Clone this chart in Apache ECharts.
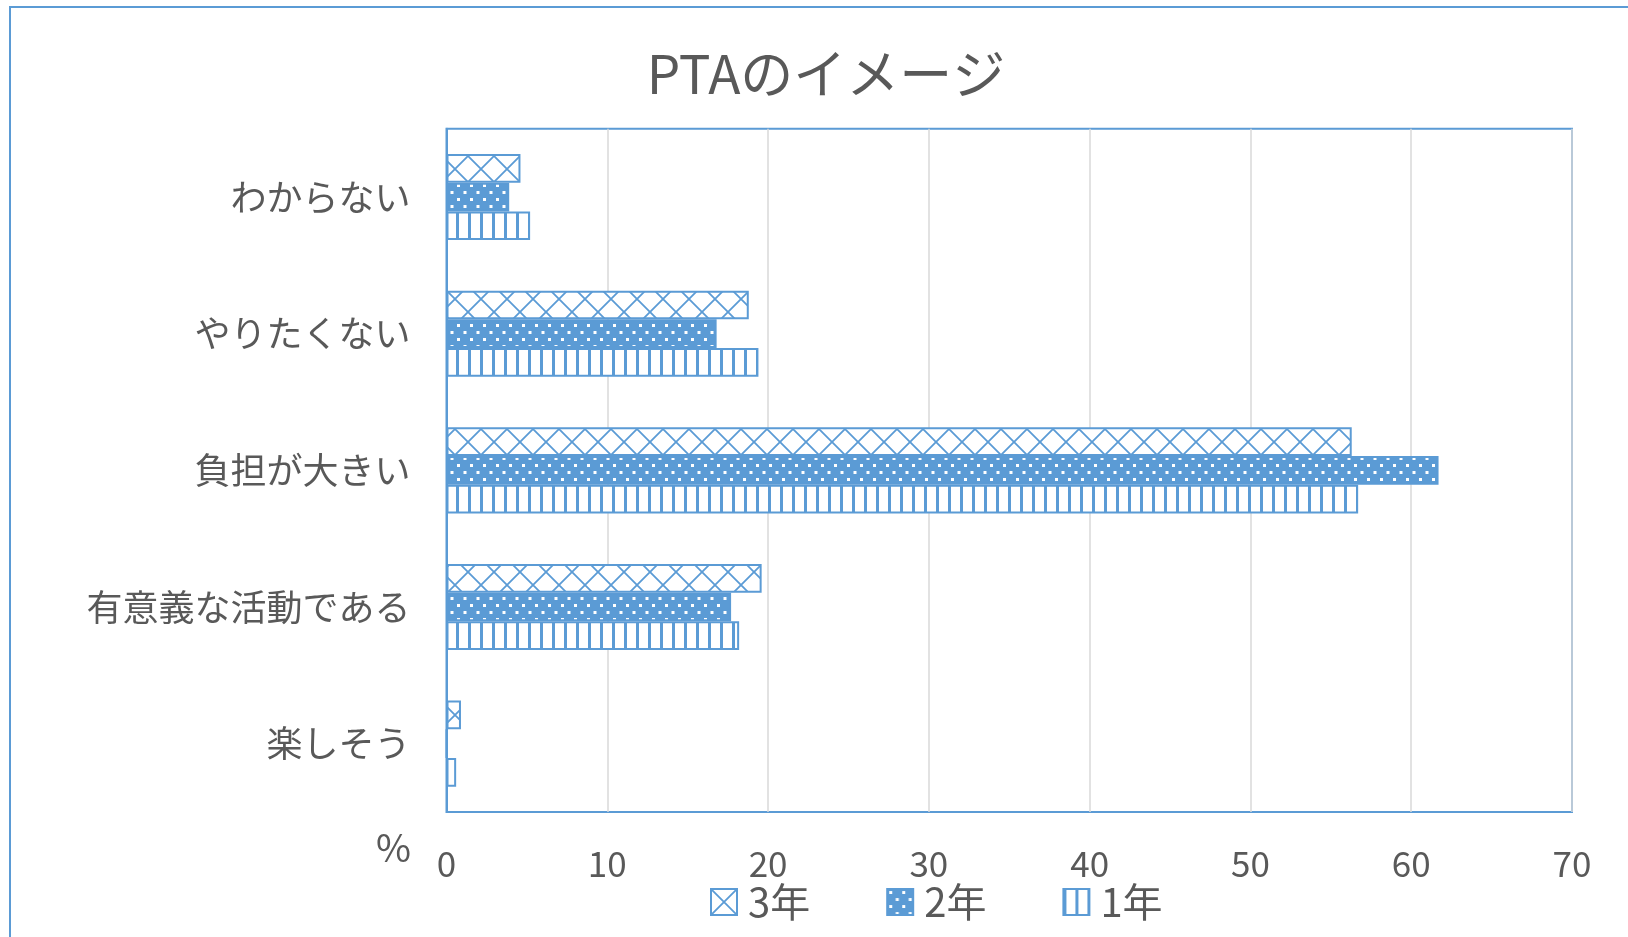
<!DOCTYPE html>
<html>
<head>
<meta charset="utf-8">
<script src="https://cdn.jsdelivr.net/npm/echarts@6/dist/echarts.min.js"></script>
<style>
html,body{margin:0;padding:0;background:#fff;}
#chart{width:1628px;height:937px;}
</style>
</head>
<body>
<div id="chart"></div>
<script>
// Data (categories listed bottom-to-top for ECharts category y-axis)
const categories = ['楽しそう', '有意義な活動である', '負担が大きい', 'やりたくない', 'わからない'];
const seriesNames = ['3年', '2年', '1年'];
const values3 = [0.9, 19.6, 56.3, 18.8, 4.6];
const values2 = [0, 17.7, 61.7, 16.8, 3.9];
const values1 = [0.6, 18.2, 56.7, 19.4, 5.2];
const xTicks = [0, 10, 20, 30, 40, 50, 60, 70];

const BLUE = '#5B9BD5';
const TEXT = '#595959';
const FONT = '"Noto Sans CJK JP", "Noto Sans", sans-serif';

function makeTile(w, h, draw) {
  const c = document.createElement('canvas');
  c.width = w; c.height = h;
  const ctx = c.getContext('2d');
  draw(ctx, w, h);
  return c;
}
const hatchTile = makeTile(26, 26, (ctx, w, h) => {
  ctx.fillStyle = '#fff'; ctx.fillRect(0, 0, w, h);
  ctx.strokeStyle = BLUE; ctx.lineWidth = 1.8;
  ctx.beginPath();
  ctx.moveTo(0, 0); ctx.lineTo(w, h);
  ctx.moveTo(w, 0); ctx.lineTo(0, h);
  ctx.stroke();
});
const dotTile = makeTile(13, 14, (ctx, w, h) => {
  ctx.fillStyle = BLUE; ctx.fillRect(0, 0, w, h);
  ctx.fillStyle = '#fff';
  ctx.fillRect(2, 2, 3, 3);
  ctx.fillRect(8.5, 9, 3, 3);
});
const stripeTile = makeTile(12, 4, (ctx, w, h) => {
  ctx.fillStyle = '#fff'; ctx.fillRect(0, 0, w, h);
  ctx.fillStyle = BLUE; ctx.fillRect(0, 0, 3, h);
});

const patterns = [
  { image: hatchTile, repeat: 'repeat' },
  { image: dotTile, repeat: 'repeat' },
  { image: stripeTile, repeat: 'repeat' }
];
const allValues = [values3, values2, values1];

const chart = echarts.init(document.getElementById('chart'), null, { renderer: 'canvas' });
chart.setOption({
  backgroundColor: '#fff',
  animation: false,
  title: {
    text: 'PTAのイメージ',
    left: 821, top: 42, textAlign: 'center',
    textStyle: { fontFamily: FONT, fontSize: 53, fontWeight: 'normal', color: TEXT }
  },
  grid: { left: 446.5, right: 56, top: 128.7, bottom: 125, show: true, borderColor: BLUE, borderWidth: 2, backgroundColor: 'transparent' },
  legend: {
    left: 705, top: 877,
    itemWidth: 26, itemHeight: 26, itemGap: 76,
    icon: 'rect',
    textStyle: { fontFamily: FONT, fontSize: 40, color: TEXT, padding: [0, 0, 0, 6] },
    data: seriesNames
  },
  xAxis: {
    type: 'value', min: 0, max: 70, interval: 10,
    axisLine: { show: false }, axisTick: { show: false },
    splitLine: { show: true, lineStyle: { color: '#D9D9D9', width: 1.5 } },
    axisLabel: { fontFamily: FONT, fontSize: 35, color: TEXT, margin: 34,
      formatter: v => xTicks.indexOf(v) >= 0 ? String(v) : '' }
  },
  yAxis: {
    type: 'category', data: categories,
    axisLine: { show: true, lineStyle: { color: BLUE, width: 2 } },
    axisTick: { show: false },
    axisLabel: { fontFamily: FONT, fontSize: 36, color: TEXT, margin: 36 }
  },
  graphic: [
    { type: 'rect', shape: { x: 10, y: 7, width: 1700, height: 1000 }, style: { fill: 'none', stroke: BLUE, lineWidth: 2 }, silent: true, z: -1 },
    { type: 'text', left: 376, top: 829, style: { text: '%', fontFamily: FONT, fontSize: 38, fill: TEXT } }
  ],
  series: seriesNames.map((name, i) => ({
    name, type: 'bar',
    data: allValues[i],
    barGap: '0%', barCategoryGap: '37%',
    itemStyle: { color: patterns[i], borderColor: BLUE, borderWidth: 2 }
  }))
});
</script>
</body>
</html>
